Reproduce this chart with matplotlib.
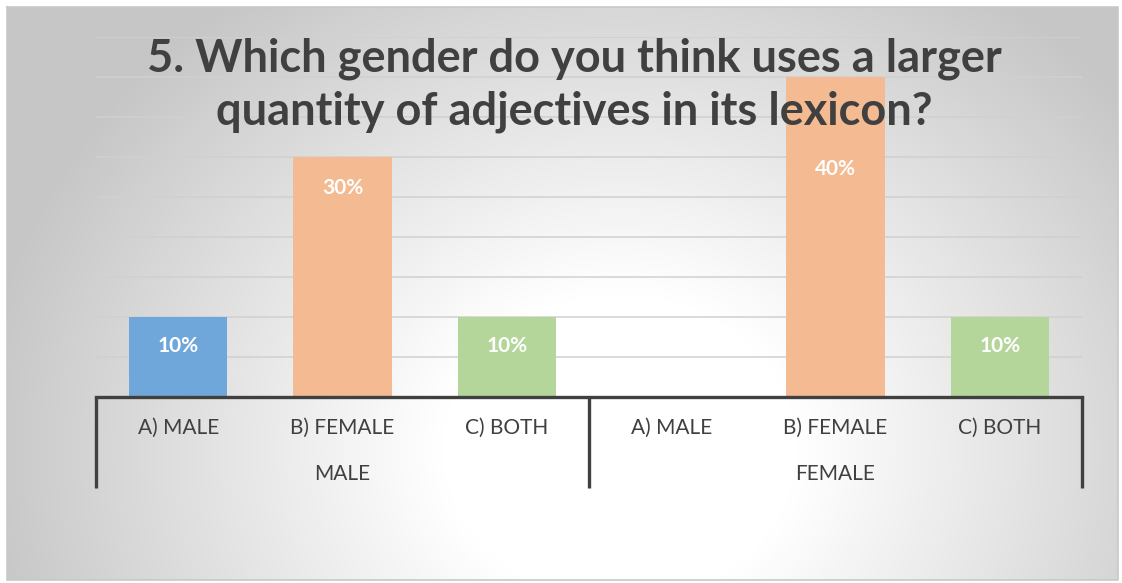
import numpy as np
import matplotlib.pyplot as plt
import matplotlib.transforms as mtransforms

# data
groups = ['MALE', 'FEMALE']
answers = ['A) MALE', 'B) FEMALE', 'C) BOTH']
values = [0.10, 0.30, 0.10, 0.00, 0.40, 0.10]
colors = ['#70A7DA', '#F4BA91', '#B4D69B'] * 2
label_drop = [-21, -22, -21, 0, -66, -21]   # label offset below bar top (pt)
title = '5. Which gender do you think uses a larger\nquantity of adjectives in its lexicon?'

W, H = 1122, 583
fig = plt.figure(figsize=(W / 100, H / 100), dpi=100)
fig.patch.set_facecolor('white')

# radial gradient background (chart area)
bg = fig.add_axes([0, 0, 1, 1], zorder=0)
bg.set_xlim(0, W)
bg.set_ylim(H, 0)
bg.axis('off')
xx, yy = np.meshgrid(np.linspace(7, 1118, 400), np.linspace(7, 580, 200))
r = np.sqrt(((xx - 620) / 640) ** 2 + ((yy - 450) / 560) ** 2)
shade = np.clip(1.0 - 0.22 * np.clip(r - 0.28, 0, None) / 0.72, 0.78, 1.0)
img = np.dstack([shade, shade, shade])
bg.imshow(img, extent=[7, 1118, 580, 7], aspect='auto', interpolation='bilinear')
bg.plot([7, 1118, 1118, 7, 7], [7, 7, 580, 580, 7], color='#C8C8C8', lw=1.2)

ax = fig.add_axes([96 / W, 186 / H, 986 / W, 360 / H], zorder=1)
ax.patch.set_alpha(0)
x = np.arange(len(values))
bars = ax.bar(x, values, width=0.6, color=colors, zorder=2)
ax.set_xlim(-0.5, 5.5)
ax.set_ylim(0, 0.45)
ax.set_yticks(np.arange(0, 0.451, 0.05))
ax.yaxis.grid(True, color='#D0D0D0', lw=1.1, zorder=0)
ax.set_axisbelow(True)
ax.tick_params(left=False, labelleft=False, bottom=False, labelbottom=False)
for s in ['left', 'right', 'top']:
    ax.spines[s].set_visible(False)
ax.spines['bottom'].set_color('#404040')
ax.spines['bottom'].set_linewidth(2.4)

# value labels inside bars
for b, v, d in zip(bars, values, label_drop):
    if v > 0:
        ax.annotate(f'{v:.0%}', (b.get_x() + b.get_width() / 2, v), xytext=(0, d),
                    textcoords='offset points', ha='center', va='center',
                    color='white', fontsize=15, fontweight='bold', family='Lato',
                    zorder=5)

# multi-level category axis
tr = mtransforms.blended_transform_factory(ax.transData, ax.transAxes)
for xv in [-0.5, 2.5, 5.5]:
    ax.plot([xv, xv], [0, -0.253], transform=tr, color='#404040', lw=2.4,
            clip_on=False, solid_capstyle='butt')
for i, xv in enumerate(x):
    ax.text(xv, -0.086, answers[i % 3], transform=tr, ha='center', va='center',
            fontsize=15, color='#404040', family='Lato')
for g, gname in enumerate(groups):
    ax.text(g * 3 + 1, -0.214, gname, transform=tr, ha='center', va='center',
            fontsize=15, color='#404040', family='Lato')

fig.text(574 / W, 1 - 85 / H, title, ha='center', va='center', fontsize=32.5,
         fontweight='bold', color='#404040', family='Lato', linespacing=1.32, zorder=3)

fig.savefig('out.png', dpi=100)
